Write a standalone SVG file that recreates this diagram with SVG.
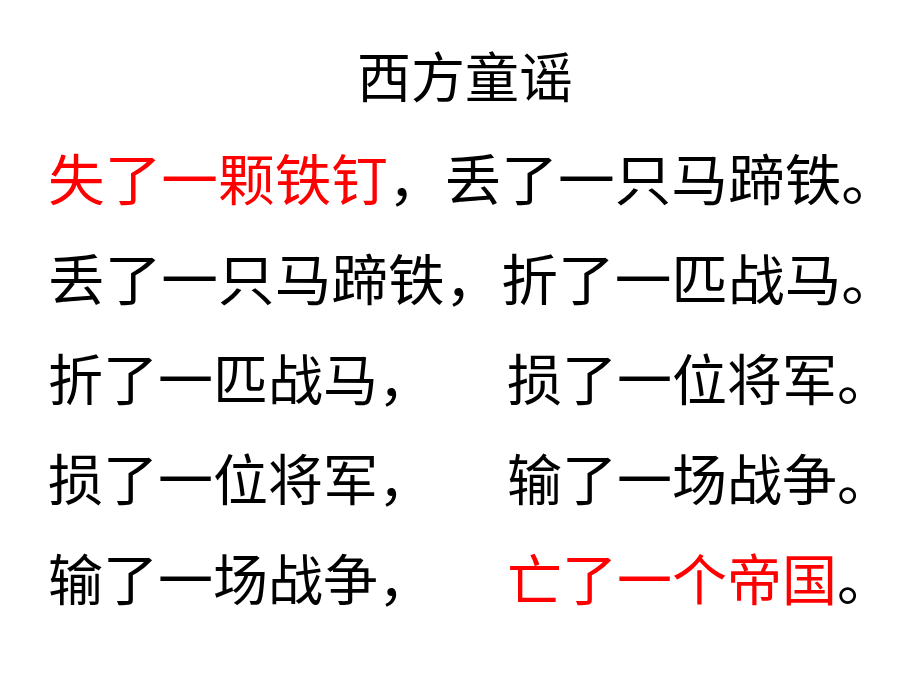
<svg xmlns="http://www.w3.org/2000/svg" width="920" height="690" viewBox="0 0 920 690">
<style>
text{font-family:"Noto Sans CJK SC","Noto Sans",sans-serif;font-size:55px;fill:#000}
.r{fill:#ff0000}
</style>
<rect width="920" height="690" fill="#fff"/>
<text x="465" y="98" text-anchor="middle" style="font-size:54px">西方童谣</text>
<text x="48" y="200" textLength="850" lengthAdjust="spacingAndGlyphs"><tspan class="r">失了一颗铁钉</tspan>，丢了一只马蹄铁。</text>
<text x="48" y="300" textLength="850" lengthAdjust="spacingAndGlyphs">丢了一只马蹄铁，折了一匹战马。</text>
<text x="48" y="400">折了一匹战马，</text>
<text x="507" y="400">损了一位将军。</text>
<text x="48" y="500">损了一位将军，</text>
<text x="507" y="500">输了一场战争。</text>
<text x="48" y="600">输了一场战争，</text>
<text x="507" y="600"><tspan class="r">亡了一个帝国</tspan>。</text>
</svg>
